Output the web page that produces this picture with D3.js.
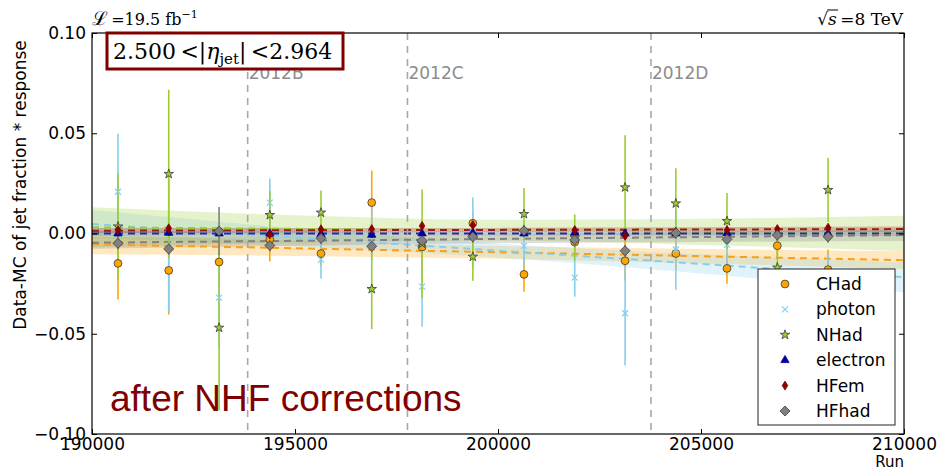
<!DOCTYPE html>
<html>
<head>
<meta charset="utf-8">
<script src="https://cdn.jsdelivr.net/npm/d3@7"></script>
<style>
  body { margin: 0; background: #fff; }
  svg { display: block; }
</style>
</head>
<body>
<div id="main"></div>
<script>
// run numbers of the data points
const runs = [190640, 191890, 193130, 194380, 195640, 196890, 198130, 199380, 200640, 201890, 203130, 204380, 205640, 206880, 208130]

const chad        = [-0.0149, -0.0184, -0.0142, -0.0030, -0.0100, 0.0154, -0.0067, 0.0051, -0.0204, -0.0043, -0.0136, -0.0100, -0.0174, -0.0061, -0.0180]
const chadErr     = [0.018, 0.022, 0.012, 0.011, 0.006, 0.016, 0.010, 0.006, 0.0087, 0.006, 0.010, 0.008, 0.0076, 0.006, 0.010]
const photon      = [0.0208, -0.0060, -0.0320, 0.0154, -0.0130, 0.0005, -0.0265, 0.0005, -0.0062, -0.0220, -0.0398, -0.0080, -0.0057, -0.0350, -0.0350]
const photonErr   = [0.029, 0.033, 0.025, 0.012, 0.0095, 0.014, 0.020, 0.0175, 0.010, 0.0095, 0.026, 0.020, 0.010, 0.012, 0.025]
const nhad        = [0.0035, 0.0297, -0.0470, 0.0092, 0.0104, -0.0277, -0.0050, -0.0116, 0.0097, -0.0020, 0.0230, 0.0150, 0.0062, -0.0170, 0.0217]
const nhadErr     = [0.0265, 0.042, 0.041, 0.012, 0.011, 0.020, 0.027, 0.012, 0.013, 0.0115, 0.026, 0.0175, 0.014, 0.014, 0.016]
const electron    = [0.0000, 0.0003, 0.0000, 0.0000, -0.0003, -0.0007, 0.0000, 0.0003, 0.0000, 0.0004, 0.0000, 0.0000, 0.0002, 0.0000, 0.0000]
const electronErr = [0.0015, 0.0015, 0.0015, 0.0015, 0.0015, 0.0015, 0.0015, 0.0015, 0.0015, 0.0015, 0.0015, 0.0015, 0.0015, 0.0015, 0.0015]
const hfem        = [0.0017, 0.0026, 0.0010, -0.0005, 0.0021, 0.0022, 0.0038, 0.0042, 0.0015, 0.0017, -0.0012, 0.0008, 0.0017, 0.0022, 0.0029]
const hfemErr     = [0.0015, 0.0015, 0.0015, 0.0015, 0.0015, 0.0015, 0.0015, 0.0015, 0.0015, 0.0015, 0.0015, 0.0015, 0.0015, 0.0015, 0.0015]
const hfhad       = [-0.0049, -0.0077, 0.0012, -0.0060, -0.0024, -0.0064, -0.0036, -0.0016, 0.0014, -0.0032, -0.0086, 0.0003, -0.0029, -0.0008, -0.0016]
const hfhadErr    = [0.003, 0.003, 0.012, 0.003, 0.003, 0.003, 0.003, 0.003, 0.003, 0.003, 0.003, 0.003, 0.003, 0.003, 0.003]

// linear fits with their uncertainty bands, read at these runs
const fitRuns      = [190000, 195000, 200000, 205000, 210000]
const chadFit      = [-0.0054, -0.0074, -0.0094, -0.0113, -0.0133]
const chadBand     = [0.0050, 0.0038, 0.0032, 0.0036, 0.0045]
const photonFit    = [0.0047, -0.0019, -0.0085, -0.0152, -0.0218]
const photonBand   = [0.0070, 0.0045, 0.0035, 0.0048, 0.0075]
const nhadFit      = [0.0031, 0.0023, 0.0016, 0.0008, 0.0000]
const nhadBand     = [0.0100, 0.0068, 0.0052, 0.0065, 0.0088]
const electronFit  = [0.0000, 0.0000, 0.0000, 0.0000, 0.0000]
const electronBand = [0.0012, 0.0010, 0.0009, 0.0010, 0.0012]
const hfemFit      = [0.0014, 0.0016, 0.0018, 0.0020, 0.0022]
const hfemBand     = [0.0013, 0.0011, 0.0010, 0.0011, 0.0013]
const hfhadFit     = [-0.0046, -0.0036, -0.0027, -0.0017, -0.0008]
const hfhadBand    = [0.0030, 0.0025, 0.0022, 0.0025, 0.0030]

// run periods
const periodRuns   = [193834, 197770, 203768]
const periodLabels = ["2012B", "2012C", "2012D"]

const xTicks = [190000, 195000, 200000, 205000, 210000]
const yTicks = [-0.10, -0.05, 0.00, 0.05, 0.10]

const series = [
    {name: "CHad",     y: chad,     err: chadErr,     fit: chadFit,     band: chadBand,     color: "#ffa500", line: "#f5a020", marker: "circle"},
    {name: "photon",   y: photon,   err: photonErr,   fit: photonFit,   band: photonBand,   color: "#87ceeb", line: "#87ceeb", marker: "x"},
    {name: "NHad",     y: nhad,     err: nhadErr,     fit: nhadFit,     band: nhadBand,     color: "#9acd32", line: "#9acd32", marker: "star"},
    {name: "electron", y: electron, err: electronErr, fit: electronFit, band: electronBand, color: "#0000a0", line: "#2a2aa0", marker: "triangle"},
    {name: "HFem",     y: hfem,     err: hfemErr,     fit: hfemFit,     band: hfemBand,     color: "#8b0000", line: "#9b1a1a", marker: "thin"},
    {name: "HFhad",    y: hfhad,    err: hfhadErr,    fit: hfhadFit,    band: hfhadBand,    color: "#808080", line: "#808080", marker: "diamond"}
]

const width = 938, height = 471
const margin = {left: 92, right: 34, top: 33, bottom: 37}

const svg = d3.select("#main").append("svg")
    .attr("width", width)
    .attr("height", height)
    .style("font-family", "'DejaVu Sans', sans-serif")

const x = d3.scaleLinear().domain([190000, 210000]).range([margin.left, width - margin.right])
const y = d3.scaleLinear().domain([-0.10, 0.10]).range([height - margin.bottom, margin.top])

const plot = svg.append("g")
svg.append("clipPath").attr("id", "clip")
    .append("rect")
    .attr("x", margin.left).attr("y", margin.top)
    .attr("width", x.range()[1] - margin.left)
    .attr("height", y.range()[0] - margin.top)
plot.attr("clip-path", "url(#clip)")

// bands
let area = d3.area()
    .x((d) => x(d.run))
    .y0((d) => y(d.c - d.w))
    .y1((d) => y(d.c + d.w))
    .curve(d3.curveMonotoneX)

series.forEach((s) => {
    let pts = fitRuns.map((r, i) => ({run: r, c: s.fit[i], w: s.band[i]}))
    plot.append("path")
        .attr("d", area(pts))
        .attr("fill", s.color)
        .attr("fill-opacity", s.name === "electron" ? 0.15 : 0.25)
})

// fit lines
series.forEach((s) => {
    plot.append("line")
        .attr("x1", x(fitRuns[0])).attr("y1", y(s.fit[0]))
        .attr("x2", x(fitRuns[fitRuns.length - 1])).attr("y2", y(s.fit[s.fit.length - 1]))
        .attr("stroke", s.line)
        .attr("stroke-width", 2)
        .attr("stroke-dasharray", "7,5")
})

// periods
periodRuns.forEach((r, i) => {
    plot.append("line")
        .attr("x1", x(r)).attr("x2", x(r))
        .attr("y1", margin.top).attr("y2", y.range()[0])
        .attr("stroke", "#a8a8a8")
        .attr("stroke-width", 1.6)
        .attr("stroke-dasharray", "7,6")
    svg.append("text")
        .attr("x", x(r) + 1)
        .attr("y", 79)
        .attr("fill", "#8c8c8c")
        .style("font-size", "17px")
        .text(periodLabels[i])
})

// error bars
series.forEach((s) => {
    plot.selectAll(null)
        .data(runs.map((r, i) => ({run: r, v: s.y[i], e: s.err[i]})))
        .enter()
        .append("line")
        .attr("x1", (d) => x(d.run)).attr("x2", (d) => x(d.run))
        .attr("y1", (d) => y(d.v - d.e)).attr("y2", (d) => y(d.v + d.e))
        .attr("stroke", s.color)
        .attr("stroke-width", 1.6)
})

let markerPath = (type) => {
    if (type === "circle") return d3.symbol(d3.symbolCircle, 48)()
    if (type === "star") return d3.symbol(d3.symbolStar, 28)()
    if (type === "triangle") return d3.symbol(d3.symbolTriangle, 30)()
    if (type === "thin") return "M0,-4.5L2.8,0L0,4.5L-2.8,0Z"
    if (type === "diamond") return "M0,-5L5,0L0,5L-5,0Z"
    return "M-3,-3L3,3M-3,3L3,-3"
}

let drawMarker = (g, s, cx, cy) => {
    let p = g.append("path")
        .attr("d", markerPath(s.marker))
        .attr("transform", `translate(${cx},${cy})`)
    if (s.marker === "x") {
        p.attr("fill", "none").attr("stroke", s.color).attr("stroke-width", 1.2)
    } else {
        p.attr("fill", s.color)
         .attr("stroke", s.marker === "triangle" || s.marker === "thin" ? s.color : "#3a3a3a")
         .attr("stroke-width", 0.8)
    }
}

// markers
series.forEach((s) => {
    runs.forEach((r, i) => drawMarker(plot, s, x(r), y(s.y[i])))
})

// frame and ticks
svg.append("rect")
    .attr("x", margin.left).attr("y", margin.top)
    .attr("width", x.range()[1] - margin.left)
    .attr("height", y.range()[0] - margin.top)
    .attr("fill", "none")
    .attr("stroke", "#000")
    .attr("stroke-width", 1.2)

let fmtY = (d) => d3.format(".2f")(d).replace("-", "\u2212")

let styleAxis = (g) => {
    g.select(".domain").remove()
    g.selectAll("text").style("font-size", "17px").style("font-family", "'DejaVu Sans', sans-serif").attr("fill", "#000")
    g.selectAll("line").attr("stroke", "#000")
}

svg.append("g")
    .attr("transform", `translate(0,${y.range()[0]})`)
    .call(d3.axisBottom(x).tickValues(xTicks).tickSize(-5).tickPadding(4).tickFormat(d3.format("d")))
    .call(styleAxis)
svg.append("g")
    .attr("transform", `translate(0,${margin.top})`)
    .call(d3.axisTop(x).tickValues(xTicks).tickSize(-5).tickFormat(""))
    .call(styleAxis)
svg.append("g")
    .attr("transform", `translate(${margin.left},0)`)
    .call(d3.axisLeft(y).tickValues(yTicks).tickSize(-5).tickPadding(6).tickFormat(fmtY))
    .call(styleAxis)
svg.append("g")
    .attr("transform", `translate(${x.range()[1]},0)`)
    .call(d3.axisRight(y).tickValues(yTicks).tickSize(-5).tickFormat(""))
    .call(styleAxis)

// axis labels
svg.append("text")
    .attr("transform", `translate(26,185) rotate(-90)`)
    .attr("text-anchor", "middle")
    .style("font-size", "17px")
    .text("Data-MC of jet fraction * response")

svg.append("text")
    .attr("x", x.range()[1])
    .attr("y", 467)
    .attr("text-anchor", "end")
    .style("font-size", "15px")
    .text("Run")

// annotation
svg.append("text")
    .attr("x", 110)
    .attr("y", 411)
    .attr("fill", "#800000")
    .style("font-family", "'Liberation Sans', Arial, sans-serif")
    .style("font-size", "37px")
    .text("after NHF corrections")

// eta box
svg.append("rect")
    .attr("x", 107).attr("y", 33)
    .attr("width", 236).attr("height", 36)
    .attr("fill", "#fff")
    .attr("stroke", "#800000")
    .attr("stroke-width", 3)

let eta = svg.append("text")
    .attr("x", 113)
    .attr("y", 59)
    .style("font-family", "'DejaVu Serif', 'Liberation Serif', serif")
    .style("font-size", "22px")
eta.append("tspan").text("2.500\u2009<|")
eta.append("tspan").style("font-style", "italic").text("\u03b7")
eta.append("tspan").attr("dy", 5).style("font-size", "15px").text("jet")
eta.append("tspan").attr("dy", -5).text("|\u2009<2.964")

// header texts
let lumi = svg.append("text")
    .attr("x", 92)
    .attr("y", 25)
    .style("font-family", "'DejaVu Serif', 'Liberation Serif', serif")
    .style("font-size", "16px")
lumi.append("tspan").style("font-size", "19px").text("\u2112")
lumi.append("tspan").text("\u2009=19.5 fb")
lumi.append("tspan").attr("dy", -7).style("font-size", "11px").text("\u22121")

let sqrtS = svg.append("text")
    .attr("x", 903)
    .attr("y", 25)
    .attr("text-anchor", "end")
    .style("font-family", "'DejaVu Serif', 'Liberation Serif', serif")
    .style("font-size", "17px")
sqrtS.append("tspan").text("\u221a")
let sTs = sqrtS.append("tspan").style("font-style", "italic").text("s")
sqrtS.append("tspan").text("\u2009=8 TeV")
let sb = sTs.node().getBBox()
svg.append("line")
    .attr("x1", sb.x - 1).attr("x2", sb.x + sb.width + 1)
    .attr("y1", sb.y + 1).attr("y2", sb.y + 1)
    .attr("stroke", "#000").attr("stroke-width", 1)

// legend
let legend = svg.append("g").attr("id", "legend")
legend.append("rect")
    .attr("x", 758).attr("y", 269)
    .attr("width", 137).attr("height", 156)
    .attr("fill", "#fff")
    .attr("stroke", "#222")
    .attr("stroke-width", 1)

series.forEach((s, i) => {
    let ly = 284 + i * 25.4
    drawMarker(legend, s, 785, ly)
    legend.append("text")
        .attr("x", 816)
        .attr("y", ly)
        .attr("dy", "0.35em")
        .style("font-size", "17px")
        .text(s.name)
})
</script>
</body>
</html>
